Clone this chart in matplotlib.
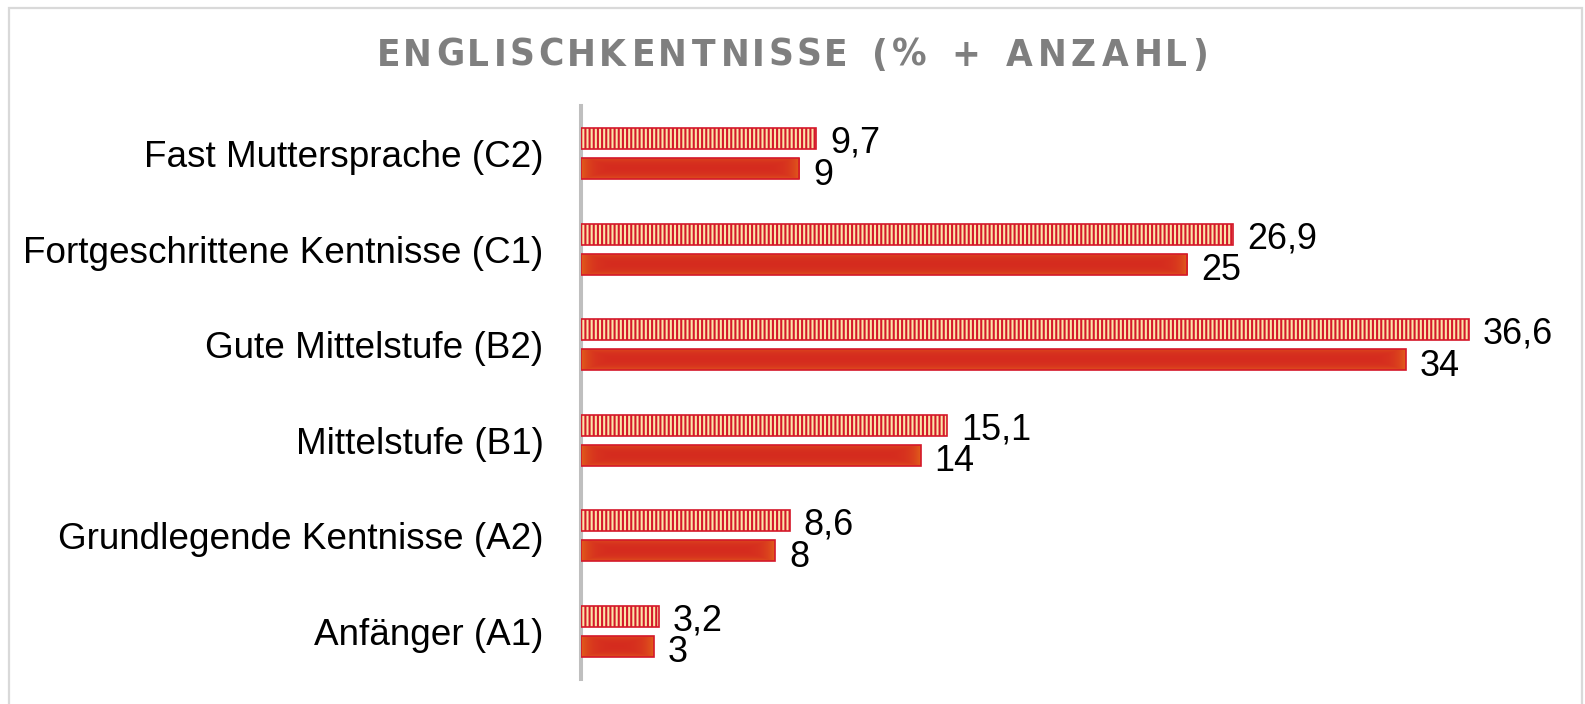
import numpy as np
import matplotlib
matplotlib.use("Agg")
import matplotlib.pyplot as plt
from matplotlib.textpath import TextPath
from matplotlib.font_manager import FontProperties
from matplotlib.patches import Rectangle
from matplotlib.colors import to_rgb

# ---------------- data ----------------
categories = ["Fast Muttersprache (C2)", "Fortgeschrittene Kentnisse (C1)",
              "Gute Mittelstufe (B2)", "Mittelstufe (B1)",
              "Grundlegende Kentnisse (A2)", "Anfänger (A1)"]
percent = [9.7, 26.9, 36.6, 15.1, 8.6, 3.2]
count = [9, 25, 34, 14, 8, 3]
percent_labels = ["9,7", "26,9", "36,6", "15,1", "8,6", "3,2"]
count_labels = ["9", "25", "34", "14", "8", "3"]
title = "ENGLISCHKENTNISSE (% + ANZAHL)"

# ---------------- figure geometry ----------------
W, H, DPI = 1585, 704, 100
plt.rcParams["hatch.linewidth"] = 1.5
fig = plt.figure(figsize=(W / DPI, H / DPI), dpi=DPI)
fig.patch.set_facecolor("white")

ax_left, ax_right, ax_top, ax_bot = 581, 1560, 106, 679
ax = fig.add_axes([ax_left / W, 1 - ax_bot / H, (ax_right - ax_left) / W, (ax_bot - ax_top) / H])
px_per_unit = 24.25
xmax = (ax_right - ax_left) / px_per_unit
n = len(categories)
px_per_cat = (ax_bot - ax_top) / n

# fonts
label_family = "Liberation Sans"
fp_lab = FontProperties(family=label_family)

def ink_w(s, fp):
    # pixel ink width at font size 1 pt
    return TextPath((0, 0), s, size=100, prop=fp).get_extents().width * DPI / 72 / 100

def ink_h(s, fp):
    return TextPath((0, 0), s, size=100, prop=fp).get_extents().height * DPI / 72 / 100

cat_pt = 516 / ink_w("Fortgeschrittene Kentnisse (C1)", fp_lab)
val_pt = 25.5 / ink_h("3", fp_lab)

ypos = np.arange(n)
bar_h = 0.22
off = 0.158
red_edge = "#D4182A"

# hatched (percent) bars
ax.barh(ypos - off, percent, height=bar_h, facecolor="#FCE4A8", edgecolor=red_edge,
        hatch="||||", linewidth=1.2, zorder=3)

# solid (count) bars with soft gradient
c_mid = np.array(to_rgb("#D52A1F"))
c_edge = np.array(to_rgb("#E2611B"))
bars = ax.barh(ypos + off, count, height=bar_h, facecolor="none", edgecolor=red_edge,
               linewidth=1.2, zorder=4)
for b, v, y in zip(bars, count, ypos + off):
    wpx = max(int(v * px_per_unit), 2)
    hpx = max(int(bar_h * px_per_cat), 2)
    xs = np.arange(wpx) + 0.5
    ys = np.arange(hpx) + 0.5
    dx = np.minimum(xs, wpx - xs)[None, :]
    dy = np.minimum(ys, hpx - ys)[:, None]
    t = np.maximum(np.exp(-dx / 9.0), 0.8 * np.exp(-dy / 3.0))
    img = c_mid[None, None, :] * (1 - t[..., None]) + c_edge[None, None, :] * t[..., None]
    im = ax.imshow(img, extent=(0, v, y + bar_h / 2, y - bar_h / 2), aspect="auto",
                   interpolation="bilinear", zorder=3)
    im.set_clip_path(b)

ax.set_xlim(0, xmax)
ax.set_ylim(n - 0.5, -0.5)

# value labels
for y, v, s in zip(ypos - off, percent, percent_labels):
    ax.annotate(s, (v, y), xytext=(10, -10.3), textcoords="offset points", ha="left",
                va="baseline", fontsize=val_pt, family=label_family,
                color="#000000", zorder=5)
for y, v, s in zip(ypos + off, count, count_labels):
    ax.annotate(s, (v, y), xytext=(10, -11.5), textcoords="offset points", ha="left",
                va="baseline", fontsize=val_pt, family=label_family,
                color="#000000", zorder=5)

# axes styling
ax.set_yticks(ypos)
ax.set_yticklabels(categories, fontsize=cat_pt, family=label_family, color="#000000")
ax.tick_params(axis="y", length=0, pad=27)
ax.set_xticks([])
for side in ["top", "right", "bottom"]:
    ax.spines[side].set_visible(False)
ax.spines["left"].set_color("#BFBFBF")
ax.spines["left"].set_linewidth(2.9)
ax.set_facecolor("none")

# chart border
fig.patches.append(Rectangle((9 / W, -0.05), (1582 - 9) / W, 1.05 - 8 / H,
                             transform=fig.transFigure, fill=False,
                             edgecolor="#D9D9D9", linewidth=1.6))

# title with letter spacing
fp_t = FontProperties(family="DejaVu Sans", weight="bold", stretch="condensed")
t_pt = 28 / ink_h("E", fp_t)
widths = []
for ch in title:
    widths.append(None if ch == " " else ink_w(ch, fp_t) * t_pt)
gap_space = 12
nchar = len(title)
sum_w = sum(w for w in widths if w is not None) + gap_space * title.count(" ")
gap = max((825 - sum_w) / (nchar - 1), 2)
x = 380
y_base = 66
for ch, w in zip(title, widths):
    if w is None:
        x += gap_space + gap
        continue
    tp = TextPath((0, 0), ch, size=100, prop=fp_t)
    x0 = tp.get_extents().x0 * DPI / 72 / 100 * t_pt
    fig.text((x - x0) / W, 1 - y_base / H, ch, fontproperties=fp_t,
             fontsize=t_pt, color="#7F7F7F", ha="left", va="baseline")
    x += w + gap

fig.savefig("out.png", dpi=DPI, facecolor="white")
